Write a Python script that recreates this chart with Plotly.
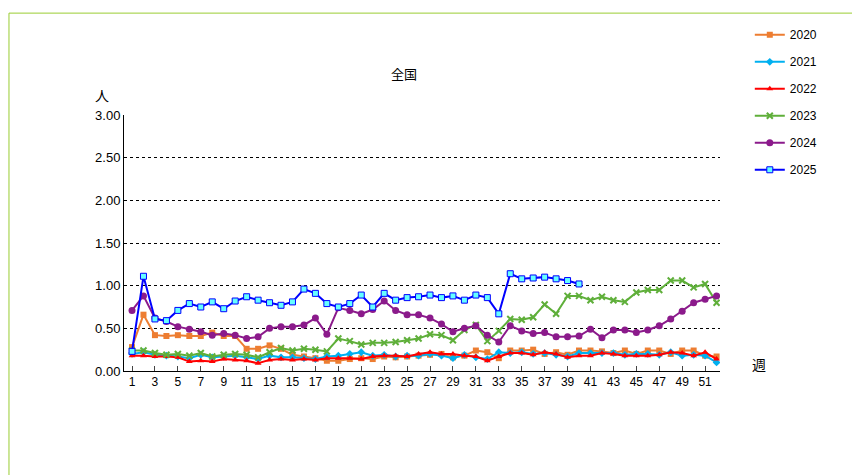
import plotly.graph_objects as go

weeks = list(range(1, 53))
y2020 = [0.28,0.66,0.42,0.41,0.42,0.41,0.41,0.45,0.41,0.41,0.26,0.26,0.30,0.26,0.19,0.17,0.15,0.12,0.12,0.14,0.15,0.14,0.17,0.16,0.17,0.18,0.19,0.20,0.16,0.18,0.24,0.22,0.15,0.24,0.24,0.25,0.20,0.22,0.19,0.24,0.24,0.23,0.21,0.24,0.20,0.24,0.24,0.20,0.24,0.24,0.18,0.17]
y2021 = [0.20,0.22,0.19,0.18,0.17,0.15,0.19,0.16,0.17,0.18,0.16,0.14,0.18,0.16,0.16,0.15,0.14,0.17,0.18,0.20,0.22,0.18,0.19,0.17,0.18,0.18,0.20,0.18,0.15,0.19,0.16,0.14,0.22,0.21,0.22,0.20,0.21,0.19,0.17,0.21,0.21,0.21,0.21,0.19,0.20,0.20,0.19,0.22,0.18,0.19,0.18,0.10]
y2022 = [0.18,0.18,0.17,0.17,0.16,0.11,0.12,0.11,0.14,0.13,0.12,0.09,0.13,0.14,0.13,0.14,0.13,0.15,0.15,0.15,0.14,0.17,0.18,0.18,0.17,0.20,0.22,0.20,0.20,0.18,0.17,0.12,0.17,0.21,0.21,0.19,0.22,0.20,0.16,0.18,0.18,0.21,0.20,0.18,0.18,0.18,0.19,0.22,0.21,0.18,0.22,0.14]
y2023 = [0.24,0.24,0.21,0.19,0.20,0.18,0.21,0.17,0.19,0.20,0.19,0.16,0.22,0.27,0.24,0.26,0.25,0.23,0.38,0.35,0.31,0.33,0.33,0.34,0.36,0.38,0.43,0.42,0.36,0.48,0.54,0.35,0.47,0.61,0.60,0.63,0.78,0.67,0.88,0.88,0.83,0.87,0.83,0.81,0.92,0.95,0.95,1.06,1.06,0.98,1.02,0.80]
y2024 = [0.71,0.88,0.62,0.58,0.52,0.49,0.46,0.42,0.44,0.42,0.38,0.40,0.50,0.52,0.52,0.54,0.62,0.43,0.74,0.71,0.67,0.72,0.82,0.71,0.66,0.66,0.62,0.55,0.46,0.50,0.53,0.42,0.34,0.53,0.47,0.44,0.45,0.40,0.40,0.41,0.49,0.39,0.48,0.48,0.45,0.48,0.53,0.61,0.70,0.80,0.84,0.88]
y2025 = [0.23,1.11,0.61,0.59,0.71,0.79,0.75,0.81,0.73,0.82,0.87,0.83,0.80,0.77,0.81,0.96,0.91,0.79,0.75,0.79,0.89,0.75,0.91,0.83,0.86,0.87,0.89,0.86,0.88,0.83,0.89,0.86,0.67,1.14,1.08,1.09,1.10,1.08,1.06,1.02]
tick_vals = [0, 0.5, 1.0, 1.5, 2.0, 2.5, 3.0]
tick_text = ["0.00", "0.50", "1.00", "1.50", "2.00", "2.50", "3.00"]

series = [
    ("2020", y2020, "#ED7D31", dict(symbol="square", size=6, color="#ED7D31")),
    ("2021", y2021, "#00B0F0", dict(symbol="diamond", size=6, color="#00B0F0")),
    ("2022", y2022, "#FF0000", dict(symbol="triangle-up", size=6, color="#FF0000")),
    ("2023", y2023, "#5FAF3A", dict(symbol="x-thin", size=6, color="#5FAF3A", line=dict(width=2, color="#5FAF3A"))),
    ("2024", y2024, "#8B1A8B", dict(symbol="circle", size=7, color="#8B1A8B")),
    ("2025", y2025, "#0000FF", dict(symbol="square", size=6, color="#66FFFF", line=dict(width=1, color="#0000FF"))),
]

fig = go.Figure()
for name, ys, col, mk in series:
    fig.add_trace(go.Scatter(x=weeks[:len(ys)], y=ys, name=name, mode="lines+markers",
                             line=dict(color=col, width=2), marker=mk, legendgroup=name))

fig.update_layout(
    width=860, height=475, paper_bgcolor="white", plot_bgcolor="white",
    margin=dict(l=116, r=148, t=104, b=112),
    font=dict(family="Liberation Sans", size=12, color="black"),
    showlegend=True,
    legend=dict(x=1.05, y=1.37, xanchor="left", yanchor="top", tracegroupgap=8,
                font=dict(size=12), bgcolor="rgba(0,0,0,0)"),
    xaxis=dict(range=[0.3, 52.3], tickmode="array", tickvals=list(range(1, 53, 2)),
               ticks="inside", ticklen=5, showgrid=False, showline=True, linecolor="black",
               linewidth=1, zeroline=False, tickfont=dict(size=12)),
    yaxis=dict(range=[0, 3.0], tickvals=tick_vals, ticktext=tick_text, showgrid=True,
               gridcolor="black", griddash="dot", gridwidth=1, showline=True, linecolor="black",
               zeroline=False, ticks="", tickfont=dict(size=13)),
    shapes=[dict(type="rect", xref="paper", yref="paper", x0=-0.193, x1=1.245, y0=-0.428, y1=1.398,
                 line=dict(color="#9ACD32", width=1))],
    annotations=[
        dict(text="全国", xref="paper", yref="paper", x=0.47, y=1.208, showarrow=False,
             font=dict(size=13, family="Noto Sans CJK JP")),
        dict(text="人", xref="paper", yref="paper", x=-0.052, y=1.124, showarrow=False,
             font=dict(size=14, family="Noto Sans CJK JP")),
        dict(text="週", xref="paper", yref="paper", x=1.08, y=-0.02, showarrow=False,
             font=dict(size=14, family="Noto Sans CJK JP")),
    ],
)
fig.write_html("out.html")
